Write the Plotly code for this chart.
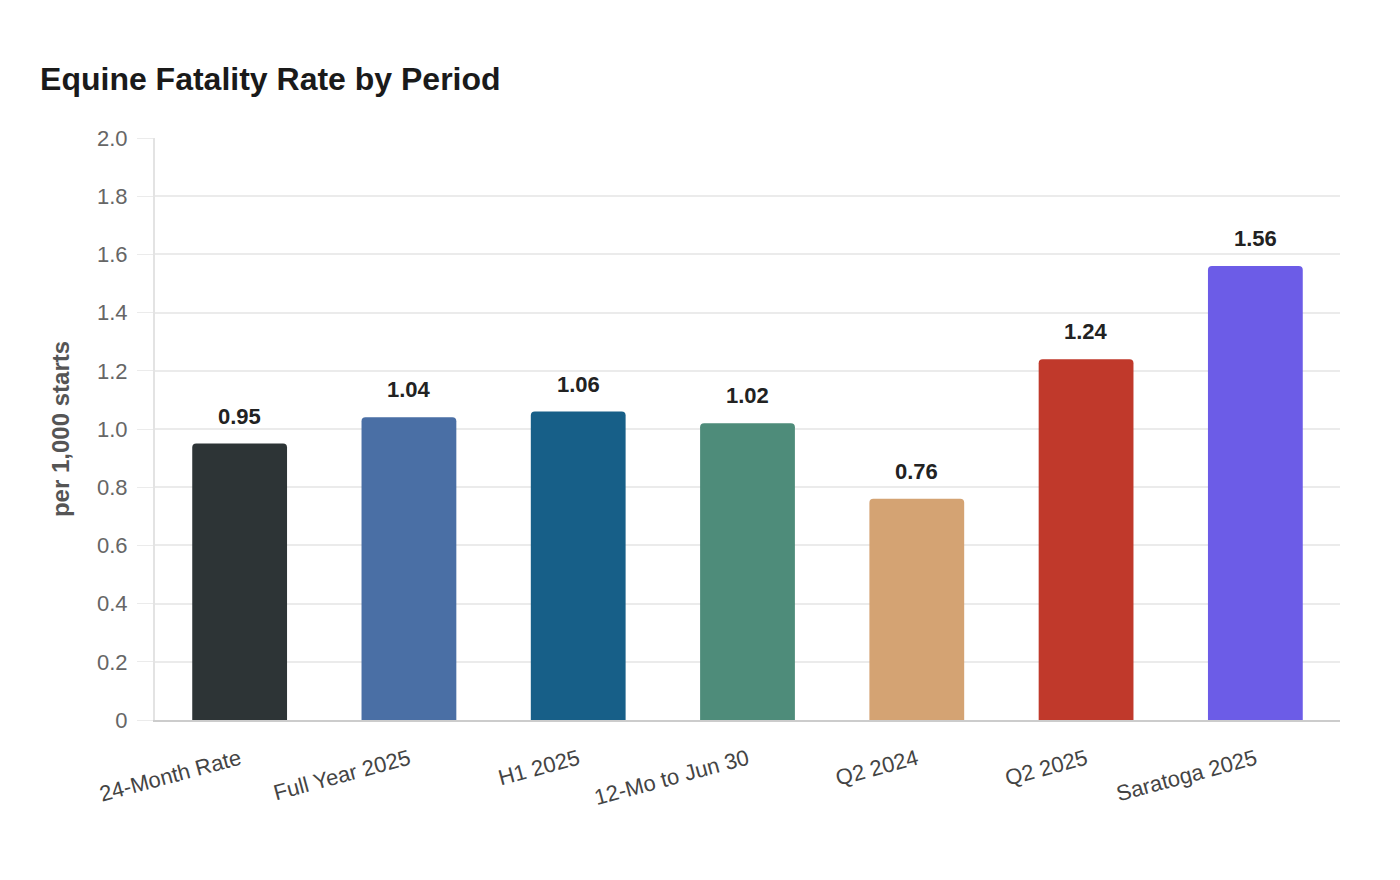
import plotly.graph_objects as go

periods = ["24-Month Rate", "Full Year 2025", "H1 2025", "12-Mo to Jun 30",
           "Q2 2024", "Q2 2025", "Saratoga 2025"]
rates = [0.95, 1.04, 1.06, 1.02, 0.76, 1.24, 1.56]
bar_colors = ["#2d3436", "#4a6fa5", "#175f88", "#4e8c7a", "#d4a373", "#c0392b", "#6c5ce7"]

y_ticks = [0, 0.2, 0.4, 0.6, 0.8, 1.0, 1.2, 1.4, 1.6, 1.8, 2.0]
y_tick_labels = ["0", "0.2", "0.4", "0.6", "0.8", "1.0", "1.2", "1.4", "1.6", "1.8", "2.0"]

fig = go.Figure()
fig.add_trace(go.Bar(
    x=periods, y=rates,
    marker=dict(color=bar_colors, cornerradius=4, line=dict(width=0)),
    width=0.56,
    hoverinfo="x+y",
))

# value labels above the bars
for p, r in zip(periods, rates):
    fig.add_annotation(
        x=p, y=r, text=f"<b>{r:.2f}</b>", showarrow=False,
        yanchor="bottom", yshift=13,
        font=dict(size=22, color="#222222", family="Liberation Sans, Arial, sans-serif"),
    )

fig.update_layout(
    width=1400, height=880,
    paper_bgcolor="white", plot_bgcolor="white",
    font=dict(family="Liberation Sans, Arial, sans-serif", color="#666666"),
    title=dict(text="<b>Equine Fatality Rate by Period</b>",
               x=0.0229, xref="container", xanchor="left",
               y=0.919, yref="container", yanchor="middle",
               font=dict(size=32, color="#1a1a1a")),
    margin=dict(l=147, r=68, t=130, b=168),
    showlegend=False,
)

fig.update_yaxes(
    range=[0, 2.0], tickvals=y_ticks, ticktext=y_tick_labels,
    tickfont=dict(size=22, color="#666666"),
    showgrid=True, gridcolor="#ebebeb", gridwidth=1.5,
    showline=True, linecolor="#e3e3e3", linewidth=2,
    ticks="outside", ticklen=16, tickcolor="#ebebeb",
    ticklabelstandoff=5,
    zeroline=False,
    title=dict(text="<b>per 1,000 starts</b>", font=dict(size=24, color="#555555"), standoff=21),
)
fig.update_xaxes(
    tickangle=-15, tickfont=dict(size=22, color="#444444"),
    showline=True, linecolor="#cccccc", linewidth=2,
    showgrid=False, ticks="",
    ticklabelstandoff=16,
)

fig.write_html("out.html")
